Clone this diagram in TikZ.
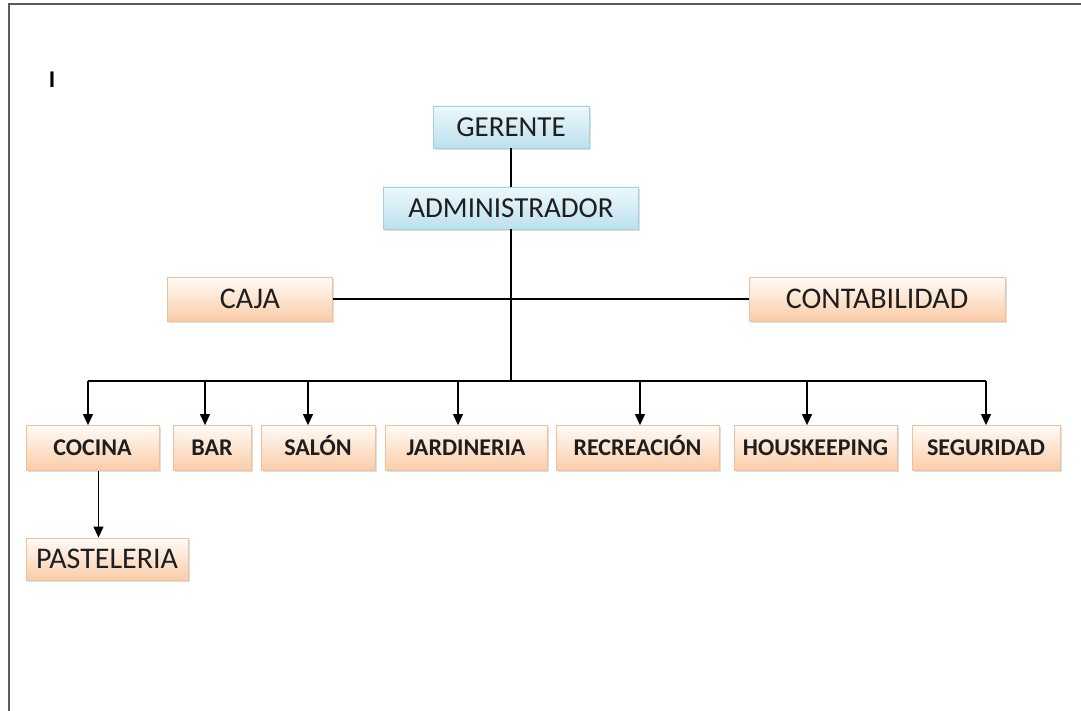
\documentclass[tikz,border=0pt]{standalone}
\usepackage{fontspec}
\setmainfont{Carlito}
\usepackage{tikz}
\usetikzlibrary{positioning}
\usetikzlibrary{shadows,arrows.meta}
\definecolor{bluetop}{RGB}{236,248,252}
\definecolor{bluebot}{RGB}{188,224,238}
\definecolor{blueedge}{RGB}{165,208,224}
\definecolor{peachtop}{RGB}{255,251,247}
\definecolor{peachbot}{RGB}{250,204,168}
\definecolor{peachedge}{RGB}{238,192,158}
\definecolor{pageline}{RGB}{90,90,90}
\definecolor{ink}{RGB}{30,30,30}
\tikzset{%
  conn/.style = {line width=0.6pt},
  downarrow/.style = {-{Triangle[length=5.5pt,width=5pt]},line width=0.6pt},
  b/.style = {rectangle,draw=blueedge,top color=bluetop,bottom color=bluebot,
        drop shadow={shadow xshift=0.8pt,shadow yshift=-0.8pt,opacity=0.25},
        text=ink,inner sep=0pt,text height=9.5pt,text depth=0pt,
        minimum height=21pt,font=\fontsize{14.5}{16}\selectfont},
  o/.style = {rectangle,draw=peachedge,top color=peachtop,bottom color=peachbot,
        drop shadow={shadow xshift=0.8pt,shadow yshift=-0.8pt,opacity=0.25},
        text=ink,inner sep=0pt,text height=9.5pt,text depth=0pt,
        minimum height=22pt,font=\fontsize{15}{17}\selectfont},
  os/.style = {o,minimum height=22.5pt,text height=8.2pt,text depth=0.6pt,
        font=\fontsize{12}{14}\selectfont\bfseries}
}
\begin{document}
\begin{tikzpicture}[x=0.5pt,y=-0.5pt]
  \useasboundingbox (0,0) rectangle (1081,711);
  % page edge
  \draw[pageline,line width=0.7pt] (9,711) -- (9,4) -- (1081,4);
  \node[font=\fontsize{12}{14}\selectfont\bfseries] (mark) at (52,80) {I};

  \node[b,minimum width=78pt] (ger) at (511,127) {GERENTE};
  \node[b,minimum width=127.5pt] (adm) at (511,208) {ADMINISTRADOR};
  \node[o,minimum width=82.5pt] (caja) at (250,299) {CAJA};
  \node[o,minimum width=128pt] (conta) at (877,299) {CONTABILIDAD};

  \node[os,minimum width=66.5pt] (coc) at (92.5,448) {COCINA};
  \node[os,minimum width=39pt] (bar) at (212,448) {BAR};
  \node[os,minimum width=57pt] (sal) at (318,448) {SALÓN};
  \node[os,minimum width=81pt] (jar) at (466,448) {JARDINERIA};
  \node[os,minimum width=81.5pt] (rec) at (637.5,448) {RECREACIÓN};
  \node[os,minimum width=81.5pt] (hou) at (815.5,448) {HOUSKEEPING};
  \node[os,minimum width=74pt] (seg) at (986,448) {SEGURIDAD};
  \node[o,minimum width=81pt,minimum height=21pt] (pas) at (107,559) {PASTELERIA};

  \coordinate (bus) at (511,381);
  \draw[conn] (ger) -- (adm);
  \draw[conn] (adm) -- (bus);
  \draw[conn] (caja) -- (conta);
  \draw[conn] ([xshift=-2.25pt]coc.north |- bus) -- (seg.north |- bus);
  \foreach \n/\dx in {coc/-2.25,bar/-3.5,sal/-5,jar/-4,rec/1.25,hou/-4.25,seg/0}
    \draw[downarrow] ([xshift=\dx pt]\n.north |- bus) -- ([xshift=\dx pt]\n.north);
  \draw[downarrow] ([xshift=3pt]coc.south) -- ([xshift=3pt]coc.south |- pas.north);
\end{tikzpicture}
\end{document}
